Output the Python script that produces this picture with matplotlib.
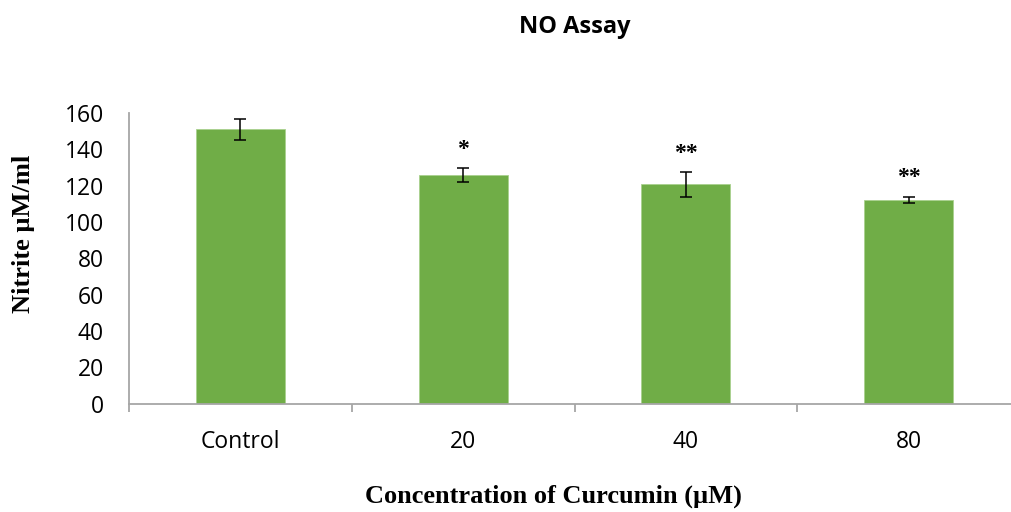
import matplotlib
matplotlib.use("Agg")
import matplotlib.pyplot as plt
import numpy as np

categories = ["Control", "20", "40", "80"]
nitrite = [151.0, 125.8, 120.7, 112.0]
sd = [5.8, 3.8, 6.7, 1.8]
signif = ["", "*", "**", "**"]

fig = plt.figure(figsize=(10.11, 5.12), dpi=100)
# Excel plot area runs past the right edge of the picture
ax = fig.add_axes([0.1276, 0.2119, 0.8813, 0.5674])

x = np.arange(len(categories))
ax.bar(x, nitrite, width=0.4, color="#70AD47", edgecolor="#A9D18E", linewidth=0.6, zorder=2)
ax.errorbar(x, nitrite, yerr=sd, fmt="none", ecolor="black", elinewidth=1.1,
            capsize=4.5, capthick=1.1, zorder=3)

for xi, m, e, s in zip(x, nitrite, sd, signif):
    if s:
        ax.text(xi, m + e + 10.5, s, ha="center", va="center", fontsize=17,
                fontweight="bold", family="Liberation Serif")

ax.set_xlim(-0.5, 3.5)
ax.set_ylim(0, 160)
ax.set_yticks(range(0, 161, 20))
ax.set_xticks(x)
ax.set_xticklabels(categories)
ax.set_xticks(np.arange(-0.5, 4.0, 1.0), minor=True)

for side in ("top", "right"):
    ax.spines[side].set_visible(False)
for side in ("left", "bottom"):
    ax.spines[side].set_color("#A6A6A6")
    ax.spines[side].set_linewidth(1.3)

ax.tick_params(axis="y", length=0, pad=18, labelsize=16.5)
ax.tick_params(axis="x", which="major", length=0, pad=19, labelsize=16.5)
ax.tick_params(axis="x", which="minor", length=6, width=1.3, color="#A6A6A6")
for lab in ax.get_xticklabels() + ax.get_yticklabels():
    lab.set_family("Open Sans")

fig.text(0.023, 0.543, "Nitrite µM/ml", rotation=90, ha="center", va="center",
         fontsize=19, fontweight="bold", family="Liberation Serif")
fig.text(0.5475, 0.031, "Concentration of Curcumin (µM)", ha="center", va="center",
         fontsize=19, fontweight="bold", family="Liberation Serif")
fig.text(0.569, 0.947, "NO Assay", ha="center", va="center", fontsize=17,
         fontweight="bold", family="Open Sans")

fig.savefig("out.png", dpi=100)
